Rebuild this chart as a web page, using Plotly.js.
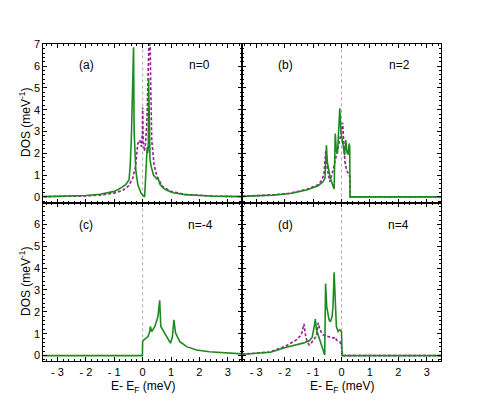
<!DOCTYPE html>
<html>
<head>
<meta charset="utf-8">
<script src="https://cdn.plot.ly/plotly-3.0.1.min.js"></script>
<style>html,body{margin:0;padding:0;background:#fff}#plot{width:485px;height:406px}</style>
</head>
<body>
<div id="plot"></div>
<script>
// Panel (a) n=0
const aGreenE = [-3.5,-3,-2.5,-2,-1.5,-1.0,-0.8,-0.6,-0.48,-0.44,-0.4,-0.36,-0.32,-0.3,-0.26,-0.24,-0.17,-0.05,0.07,0.1,0.13,0.16,0.18,0.2,0.21,0.23,0.26,0.3,0.38,0.5,0.55,0.6,0.71,0.85,1.07,1.5,2,2.5,3,3.5];
const aGreenD = [0.01,0.02,0.03,0.06,0.12,0.25,0.38,0.56,0.77,1.4,2.6,4.2,6.86,3.0,1.6,1.2,0.55,0.15,0.0,0.8,1.85,2.3,2.0,2.3,5.45,2.5,1.7,1.4,1.0,0.82,0.85,0.6,0.42,0.3,0.19,0.1,0.05,0.03,0.02,0.01];
const aPurpE = [-3.5,-3,-2.5,-2,-1.5,-1,-0.7,-0.5,-0.35,-0.25,-0.17,-0.1,-0.04,-0.01,0.0,0.02,0.06,0.1,0.15,0.19,0.22,0.25,0.28,0.32,0.4,0.5,0.7,1.0,1.5,2.0,2.5,3.0,3.5];
const aPurpD = [0.005,0.01,0.02,0.04,0.08,0.17,0.3,0.5,0.85,1.4,2.45,2.6,2.3,3.0,4.1,2.6,2.1,2.4,3.5,5.2,6.8,8.5,5.5,2.6,1.5,0.95,0.48,0.25,0.11,0.06,0.03,0.02,0.01];
// Panel (b) n=2
const bGreenE = [-3.5,-3,-2.4,-1.8,-1.23,-0.82,-0.65,-0.58,-0.53,-0.5,-0.4,-0.3,-0.26,-0.22,-0.18,-0.14,-0.1,-0.06,-0.02,0.02,0.06,0.11,0.15,0.2,0.24,0.27,0.29,0.3,3.5];
const bGreenD = [0.02,0.04,0.08,0.15,0.31,0.51,0.69,0.85,2.37,1.6,0.9,0.5,0.36,2.9,2.1,2.0,2.8,4.06,3.0,2.7,2.45,1.9,2.6,2.0,1.95,2.45,2.3,0,0];
const bPurpE = [-3.5,-3,-2.4,-1.8,-1.23,-0.82,-0.7,-0.62,-0.55,-0.5,-0.45,-0.41,-0.3,-0.2,-0.08,0.0,0.04,0.08,0.12,0.18,0.27,0.3,0.31,3.5];
const bPurpD = [0.03,0.05,0.09,0.17,0.34,0.56,0.75,1.0,2.15,1.3,0.85,0.69,1.2,1.8,2.45,3.0,3.4,2.3,1.6,1.23,0.92,0.9,0,0];
// Panel (c) n=-4
const cGreenE = [-3.5,-0.01,0.0,0.07,0.19,0.25,0.27,0.32,0.43,0.54,0.6,0.64,0.7,0.84,0.98,1.05,1.1,1.16,1.31,1.55,1.9,2.35,3.0,3.5];
const cGreenD = [0,0,0.67,0.75,0.87,1.1,1.33,1.1,1.33,1.79,2.53,1.33,1.2,0.87,0.57,0.87,1.64,1.03,0.64,0.41,0.26,0.18,0.12,0.08];
// Panel (d) n=4
const dGreenE = [-3.5,-2.5,-1.94,-1.35,-1.12,-1.03,-0.95,-0.92,-0.88,-0.76,-0.65,-0.59,-0.56,-0.52,-0.44,-0.39,-0.33,-0.3,-0.26,-0.22,-0.18,-0.12,-0.06,0.0,0.02,3.5];
const dGreenD = [0.06,0.15,0.38,0.57,0.69,0.84,1.41,1.67,1.18,0.72,0.34,0.03,3.29,2.25,1.64,1.55,1.79,2.25,3.81,2.1,1.33,1.1,1.18,1.1,0,0];
const dPurpE = [-3.5,-2.5,-1.94,-1.59,-1.41,-1.35,-1.32,-1.25,-1.14,-1.05,-0.88,-0.82,-0.76,-0.65,-0.47,-0.3,-0.21,-0.18,-0.06,0.0,0.04,3.5];
const dPurpD = [0.06,0.17,0.45,0.72,0.95,1.33,1.45,0.8,0.49,0.6,0.9,1.5,1.18,0.95,0.87,0.8,0.84,0.72,0.64,0.4,0,0];

const xTickVals = [-3,-2,-1,0,1,2,3];
const xTickText = ['- 3','- 2','- 1','0','1','2','3'];
const yTickVals = [0,1,2,3,4,5,6,7];
const yTickTextTop = ['0','1','2','3','4','5','6','7'];
const yTickTextBottom = ['0','1','2','3','4','5','6',' '];
const panelLabels = ['(a)','(b)','(c)','(d)'];
const nLabels = ['n=0','n=2','n=-4','n=4'];

const GREEN = 'rgb(30,138,30)';
const PURPLE = 'rgb(150,30,150)';
const FONT = {family:'Liberation Sans, Arial, sans-serif', size:11, color:'#000'};

function purple(x,y,xa,ya){return {x:x,y:y,xaxis:xa,yaxis:ya,type:'scatter',mode:'lines',line:{color:PURPLE,width:1.6,dash:'3px,2px'},hoverinfo:'skip'};}
function green(x,y,xa,ya){return {x:x,y:y,xaxis:xa,yaxis:ya,type:'scatter',mode:'lines',line:{color:GREEN,width:1.6},hoverinfo:'skip'};}

const data = [
  purple(aPurpE,aPurpD,'x','y'), green(aGreenE,aGreenD,'x','y'),
  purple(bPurpE,bPurpD,'x2','y2'), green(bGreenE,bGreenD,'x2','y2'),
  green(cGreenE,cGreenD,'x3','y3'),
  purple(dPurpE,dPurpD,'x4','y4'), green(dGreenE,dGreenD,'x4','y4')
];

const W=485, H=406;
const xL=[43.3/W, 242/W], xR=[242/W, 441/W];
const yT=[1-202.5/H, 1-44.3/H], yB=[1-361.3/H, 1-202.5/H];

function xax(dom, anchor, labels){
  return {domain:dom, anchor:anchor, range:[-3.5,3.5], tickmode:'array', tickvals:xTickVals, ticktext:xTickText,
    showticklabels:labels, ticks:'inside', ticklen:4, tickwidth:1, tickcolor:'#000',
    minor:{tickmode:'linear', tick0:0, dtick:0.2, ticks:'inside', ticklen:2, tickcolor:'#000', tickwidth:1},
    showline:true, linecolor:'#000', linewidth:1, mirror:'allticks', showgrid:false, zeroline:false, tickfont:FONT};
}
function yax(dom, anchor, labels, text){
  return {domain:dom, anchor:anchor, range:[-0.26,7], tickmode:'array', tickvals:yTickVals, ticktext:text,
    showticklabels:labels, ticks:'inside', ticklen:4, tickwidth:1, tickcolor:'#000',
    minor:{tickmode:'linear', tick0:0, dtick:0.2, ticks:'inside', ticklen:2, tickcolor:'#000', tickwidth:1},
    showline:true, linecolor:'#000', linewidth:1, mirror:'allticks', showgrid:false, zeroline:false, tickfont:FONT};
}

const shapes = ['x','x2','x3','x4'].map((xa,i)=>({type:'line', xref:xa, yref:(i===0?'y':'y'+(i+1))+' domain', x0:0, x1:0, y0:0, y1:1,
  line:{color:'rgb(170,170,170)', width:1, dash:'dot'}, layer:'below'}));

function ann(text,px,py,size,extra){return Object.assign({text:text, xref:'paper', yref:'paper', x:px/W, y:1-py/H, showarrow:false,
  xanchor:'center', yanchor:'middle', font:Object.assign({}, FONT, {size:size})}, extra||{});}

const annotations = [
  ann(panelLabels[0],86,65,12), ann(nLabels[0],199.5,65,12),
  ann(panelLabels[1],285,65,12), ann(nLabels[1],399,65,12),
  ann(panelLabels[2],86,225,12), ann(nLabels[2],200,225,12),
  ann(panelLabels[3],285,225,12), ann(nLabels[3],398,225,12),
  ann('DOS (meV<sup>-1</sup>)',25,123,12,{textangle:-90}),
  ann('DOS (meV<sup>-1</sup>)',25,282,12,{textangle:-90}),
  ann('E- E<sub>F</sub> (meV)',143,387,12),
  ann('E- E<sub>F</sub> (meV)',342,387,12)
];

const layout = {
  width:W, height:H, margin:{l:0,r:0,t:0,b:0}, showlegend:false,
  paper_bgcolor:'#fff', plot_bgcolor:'rgba(0,0,0,0)', font:FONT,
  xaxis:xax(xL,'y',false), yaxis:yax(yT,'x',true,yTickTextTop),
  xaxis2:xax(xR,'y2',false), yaxis2:yax(yT,'x2',false,yTickTextTop),
  xaxis3:xax(xL,'y3',true), yaxis3:yax(yB,'x3',true,yTickTextBottom),
  xaxis4:xax(xR,'y4',true), yaxis4:yax(yB,'x4',false,yTickTextBottom),
  shapes:shapes, annotations:annotations
};
Plotly.newPlot('plot', data, layout, {staticPlot:true, displayModeBar:false});
</script>
</body>
</html>
